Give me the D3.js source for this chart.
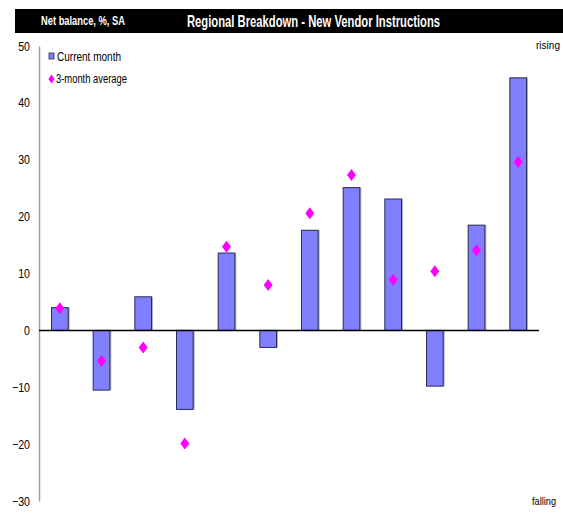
<!DOCTYPE html>
<html><head><meta charset="utf-8">
<script src="https://cdn.jsdelivr.net/npm/d3@7"></script>
<style>
body{margin:0;background:#fff;}
text{font-family:"Liberation Sans Narrow","Arial Narrow","Liberation Sans",Arial,sans-serif;}
</style></head>
<body><svg id="c" width="563" height="513"></svg>
<script>
const regions = ["R1","R2","R3","R4","R5","R6","R7","R8","R9","R10","R11","R12"];
const currentMonth = [4.0, -10.5, 5.9, -13.9, 13.6, -3.0, 17.6, 25.1, 23.1, -9.8, 18.5, 44.4];
const threeMonthAvg = [3.9, -5.4, -3.0, -19.9, 14.7, 8.0, 20.6, 27.3, 8.9, 10.4, 14.1, 29.6];
const yTicks = [-30, -20, -10, 0, 10, 20, 30, 40, 50];

const svg = d3.select("#c");
const x = d3.scaleBand().domain(regions).range([39, 539]).paddingInner(0.6).paddingOuter(0.3);
const y = d3.scaleLinear().domain([-30, 50]).range([501, 46]);

function squeeze(sel, factor) {
  sel.each(function () {
    const w = this.getComputedTextLength();
    d3.select(this).attr("textLength", w * factor).attr("lengthAdjust", "spacingAndGlyphs");
  });
}

// title bar
svg.append("rect").attr("x", 15).attr("y", 9).attr("width", 548).attr("height", 24).attr("fill", "#000");
svg.append("text").attr("x", 41).attr("y", 25).attr("fill", "#fff").attr("font-size", 13).attr("font-weight", "bold")
  .attr("textLength", 84).attr("lengthAdjust", "spacingAndGlyphs").text("Net balance, %, SA");
svg.append("text").attr("x", 187).attr("y", 27).attr("fill", "#fff").attr("font-size", 16.5).attr("font-weight", "bold")
  .attr("textLength", 253).attr("lengthAdjust", "spacingAndGlyphs").text("Regional Breakdown - New Vendor Instructions");

// y axis
const yAxis = d3.axisLeft(y).tickValues(yTicks).tickSize(0).tickPadding(9).tickFormat(d3.format("d"));
const ga = svg.append("g").attr("transform", "translate(39,0)").call(yAxis);
ga.select(".domain").attr("stroke", "#a0a0a0").attr("stroke-width", 1.5);
ga.selectAll("text").attr("font-size", 12.5).attr("fill", "#000")
  .attr("font-family", "'Liberation Sans',Arial,sans-serif");
squeeze(ga.selectAll("text"), 0.85);

// bars shadow
svg.append("g").selectAll("rect").data(currentMonth).join("rect")
  .attr("x", (d, i) => x(regions[i]) + 1.5)
  .attr("y", d => y(Math.max(0, d)))
  .attr("width", x.bandwidth())
  .attr("height", d => Math.abs(y(d) - y(0)))
  .attr("fill", "#b0b0b0");
svg.append("g").selectAll("rect").data(currentMonth).join("rect")
  .attr("x", (d, i) => x(regions[i]))
  .attr("y", d => y(Math.max(0, d)))
  .attr("width", x.bandwidth())
  .attr("height", d => Math.abs(y(d) - y(0)))
  .attr("fill", "#8080ff").attr("stroke", "#2a2a55").attr("stroke-width", 1);

// zero line
svg.append("line").attr("x1", 39).attr("x2", 539).attr("y1", y(0)).attr("y2", y(0)).attr("stroke", "#000").attr("stroke-width", 1.5);

// diamonds
const diamond = "M0,-6L4.5,0L0,6L-4.5,0Z";
svg.append("g").selectAll("path").data(threeMonthAvg).join("path")
  .attr("d", diamond)
  .attr("transform", (d, i) => `translate(${x(regions[i]) + x.bandwidth() / 2},${y(d)})`)
  .attr("fill", "#ff00ff");

// legend
svg.append("rect").attr("x", 49).attr("y", 53).attr("width", 5).attr("height", 6).attr("fill", "#8080ff").attr("stroke", "#2a2a55").attr("stroke-width", 0.8);
svg.append("text").attr("x", 57).attr("y", 61).attr("font-size", 12.5)
  .attr("textLength", 64).attr("lengthAdjust", "spacingAndGlyphs").text("Current month");
svg.append("path").attr("d", "M0,-4.5L3.2,0L0,4.5L-3.2,0Z").attr("transform", "translate(51.5,79)").attr("fill", "#ff00ff");
svg.append("text").attr("x", 56).attr("y", 83).attr("font-size", 12.5)
  .attr("textLength", 71).attr("lengthAdjust", "spacingAndGlyphs").text("3-month average");

// rising / falling
svg.append("text").attr("x", 560).attr("y", 49).attr("font-size", 11.5).attr("text-anchor", "end")
  .attr("textLength", 24).attr("lengthAdjust", "spacingAndGlyphs").text("rising");
svg.append("text").attr("x", 556).attr("y", 505).attr("font-size", 11).attr("text-anchor", "end")
  .attr("textLength", 24).attr("lengthAdjust", "spacingAndGlyphs").text("falling");
</script></body></html>
